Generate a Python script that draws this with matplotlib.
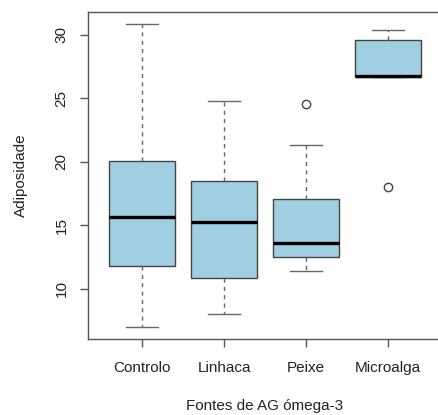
import matplotlib.pyplot as plt

grupos = ['Controlo', 'Linhaca', 'Peixe', 'Microalga']
whislo = [7.0, 8.0, 11.4, 26.65]
q1 = [11.83, 10.81, 12.49, 26.65]
med = [15.68, 15.26, 13.59, 26.76]
q3 = [20.08, 18.48, 17.04, 29.58]
whishi = [30.82, 24.79, 21.31, 30.35]
outliers = [[], [], [24.5], [18.0]]

stats = []
for i, g in enumerate(grupos):
    stats.append({'label': g, 'whislo': whislo[i], 'q1': q1[i], 'med': med[i],
                  'q3': q3[i], 'whishi': whishi[i], 'fliers': outliers[i]})

plt.rcParams['font.family'] = ['Liberation Sans', 'DejaVu Sans']

fig = plt.figure(figsize=(4.39, 4.15), dpi=100)
ax = fig.add_axes([88 / 439, 76 / 415, 354 / 439, 327 / 415])

cinza = '#444444'
ax.bxp(stats, positions=range(1, 5), widths=0.8, capwidths=0.4, patch_artist=True,
       boxprops=dict(facecolor='#9fcfe0', edgecolor=cinza, linewidth=1),
       medianprops=dict(color='black', linewidth=2.4, solid_capstyle='butt'),
       whiskerprops=dict(color='#666666', linewidth=1, linestyle=(0, (3, 3))),
       capprops=dict(color='#666666', linewidth=1),
       flierprops=dict(marker='o', markerfacecolor='none', markeredgecolor=cinza,
                       markersize=6, markeredgewidth=1))

ax.set_xlim(0.34, 4.66)
ax.set_ylim(6.05, 31.77)
ax.set_yticks([10, 15, 20, 25, 30])
ax.set_yticklabels(['10', '15', '20', '25', '30'], rotation=90, va='center')

for s in ax.spines.values():
    s.set_color('#555555')
    s.set_linewidth(1)

ax.tick_params(axis='both', length=6, width=1, color='#555555', labelsize=11,
               labelcolor='#222222')
ax.tick_params(axis='y', pad=8)
ax.tick_params(axis='x', pad=10)

ax.set_xlabel('Fontes de AG ómega-3', fontsize=11, color='#222222', labelpad=17)
ax.set_ylabel('Adiposidade', fontsize=11, color='#222222', labelpad=19)

fig.savefig('out.png', dpi=100)
